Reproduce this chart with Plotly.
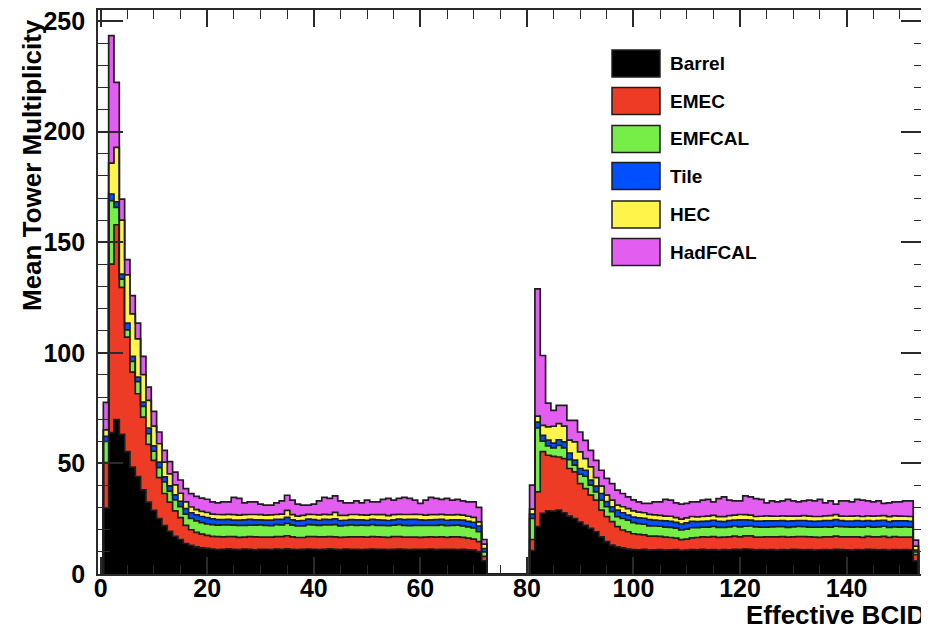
import numpy as np
import plotly.graph_objects as go

# ---------------- data ----------------
series_names = ["Barrel", "EMEC", "EMFCAL", "Tile", "HEC", "HadFCAL"]
series_colors = ["#000000", "#EE3B26", "#77EE47", "#0050FF", "#FFF54A", "#E35EF0"]

bins_left = list(range(1, 73))      # effective BCID 1..72
bins_right = list(range(81, 154))   # effective BCID 81..153

barrel_left = [29.8, 63.9, 69.8, 63.1, 55.3, 48.3, 44.0, 38.0, 32.5, 28.8,
               25.1, 21.9, 19.3, 17.0, 15.6, 13.8, 13.0, 12.3, 11.8, 11.6,
               11.3, 11.0, 11.2, 11.4, 11.1, 11.0, 11.3, 11.2, 10.9, 11.1,
               11.2, 11.0, 11.3, 11.1, 11.4, 11.2, 11.0, 11.1, 11.3, 11.2,
               11.0, 11.2, 11.4, 11.1, 11.0, 11.3, 11.2, 11.1, 11.0, 11.2,
               11.3, 11.1, 11.2, 11.0, 11.1, 11.3, 11.2, 11.0, 11.1, 11.2,
               11.1, 11.3, 11.0, 11.2, 11.1, 11.2, 11.0, 11.1, 10.9, 10.8,
               10.1, 5.9]
emec_left = [20.6, 76.2, 88.1, 66.5, 51.8, 43.0, 37.5, 32.9, 26.1, 22.6,
             18.5, 14.5, 13.2, 11.5, 9.9, 8.2, 7.0, 6.5, 6.2, 5.9,
             5.7, 5.9, 5.6, 5.5, 5.8, 5.6, 5.4, 5.7, 5.9, 5.6,
             5.5, 5.7, 5.6, 5.8, 5.9, 5.6, 5.5, 5.4, 5.6, 5.7,
             5.8, 5.6, 5.5, 5.7, 5.6, 5.4, 5.6, 5.7, 5.8, 5.5,
             5.6, 5.7, 5.5, 5.6, 5.8, 5.6, 5.5, 5.7, 5.6, 5.4,
             5.6, 5.5, 5.7, 5.6, 5.5, 5.6, 5.8, 5.5, 5.3, 5.0,
             4.5, 2.1]
emfcal_left = [9.5, 28.7, 7.9, 3.7, 3.3, 4.8, 5.5, 4.9, 4.8, 4.2,
               4.5, 5.2, 5.0, 5.0, 5.0, 5.1, 5.1, 5.2, 5.2, 5.2,
               5.3, 5.2, 5.4, 5.3, 5.2, 5.4, 5.3, 5.2, 5.3, 5.5,
               5.3, 5.2, 5.4, 5.3, 5.6, 5.3, 5.2, 5.3, 5.4, 5.3,
               5.2, 5.4, 5.3, 5.5, 5.2, 5.3, 5.4, 5.2, 5.3, 5.3,
               5.4, 5.2, 5.3, 5.3, 5.2, 5.4, 5.3, 5.2, 5.3, 5.4,
               5.3, 5.2, 5.3, 5.4, 5.3, 5.2, 5.3, 5.2, 5.1, 5.0,
               4.5, 2.0]
tile_left = [2.3, 3.0, 2.5, 2.3, 3.0, 2.3, 2.0, 1.9, 2.6, 2.3,
             2.5, 2.3, 2.3, 2.3, 2.4, 2.5, 2.6, 2.7, 2.8, 2.8,
             2.6, 2.5, 2.4, 2.5, 2.3, 2.4, 2.5, 2.6, 2.4, 2.3,
             2.4, 2.5, 2.4, 2.5, 2.7, 2.4, 2.3, 2.4, 2.5, 2.4,
             2.3, 2.5, 2.4, 2.6, 2.4, 2.3, 2.4, 2.5, 2.4, 2.3,
             2.4, 2.5, 2.4, 2.3, 2.4, 2.5, 2.6, 2.8, 2.7, 2.5,
             2.4, 2.5, 2.6, 2.5, 2.4, 2.5, 2.4, 2.6, 2.5, 2.6,
             2.6, 1.5]
hec_left = [3.0, 14.0, 24.6, 24.4, 21.8, 19.2, 17.3, 12.4, 12.5, 9.0,
            8.3, 6.7, 5.5, 4.5, 3.6, 3.0, 2.6, 2.4, 2.3, 2.3,
            2.2, 2.3, 2.2, 2.3, 2.4, 2.2, 2.3, 2.2, 2.4, 2.3,
            2.2, 2.3, 2.2, 2.4, 3.2, 2.3, 2.2, 2.3, 2.2, 2.3,
            2.4, 2.3, 2.2, 3.0, 2.3, 2.2, 2.3, 2.4, 2.2, 2.3,
            2.2, 2.3, 2.4, 2.2, 2.3, 2.2, 2.3, 2.2, 2.3, 2.4,
            2.2, 2.3, 2.2, 2.3, 2.4, 2.2, 2.3, 2.2, 2.3, 2.2,
            1.9, 2.0]
hadfcal_left = [12.4, 57.6, 29.4, 9.5, 6.9, 8.3, 7.1, 8.3, 6.0, 6.6,
                5.3, 5.3, 5.5, 5.8, 6.0, 6.0, 6.0, 6.0, 6.0, 6.0,
                5.5, 5.3, 5.8, 5.6, 7.8, 7.6, 5.4, 5.7, 5.7, 4.8,
                4.5, 4.4, 5.3, 6.0, 6.8, 6.6, 5.4, 4.6, 4.1, 4.7,
                6.4, 7.6, 7.4, 7.4, 6.6, 5.7, 5.3, 6.2, 5.5, 6.8,
                5.7, 5.8, 6.9, 7.8, 6.6, 7.2, 7.7, 7.3, 6.4, 5.0,
                6.8, 7.8, 7.4, 6.7, 7.5, 6.7, 6.9, 6.5, 6.5, 7.0,
                6.5, 2.1]

barrel_right = [10.6, 21.4, 27.4, 28.6, 28.4, 28.9, 27.7, 26.2, 25.1, 23.5,
                22.0, 20.6, 19.1, 16.8, 14.6, 13.1, 12.3, 11.8, 11.3,
                11.0, 10.9, 11.1, 10.8, 10.9, 11.0, 10.8, 10.9, 11.0, 10.7,
                10.8, 11.0, 10.9, 11.1, 10.9, 11.0, 10.8, 11.0, 10.9, 11.1,
                11.0, 11.3, 11.2, 10.9, 11.0, 10.9, 11.0, 10.8, 11.0, 10.9,
                11.1, 11.0, 10.9, 11.0, 10.8, 10.9, 11.0, 10.9, 11.1, 11.0,
                10.9, 10.8, 11.0, 10.9, 11.1, 11.0, 10.9, 11.0, 10.8, 11.0,
                10.9, 11.0, 10.9,
                5.9]
emec_right = [5.0, 15.7, 27.9, 25.1, 24.8, 24.0, 24.5, 21.5, 21.1, 17.4,
              16.6, 15.1, 14.3, 12.1, 11.3, 10.6, 9.1, 8.1, 7.8,
              7.2, 7.0, 6.6, 6.3, 6.2, 6.0, 5.9, 5.6, 5.2, 4.8,
              5.0, 5.3, 5.6, 5.7, 5.8, 5.9, 5.8, 5.7, 5.9, 6.0,
              5.8, 5.9, 6.0, 5.8, 5.7, 5.9, 5.8, 6.0, 5.9, 5.8,
              5.7, 5.9, 6.0, 5.8, 5.9, 5.7, 5.8, 5.9, 6.0, 5.8,
              5.9, 6.0, 5.8, 5.7, 5.9, 5.8, 5.9, 6.0, 5.8, 5.9,
              5.8, 5.7, 5.8,
              2.9]
emfcal_right = [9.5, 28.9, 4.8, 4.2, 3.8, 5.3, 4.8, 4.0, 3.0, 4.2,
                5.6, 4.5, 3.7, 4.5, 4.5, 4.5, 4.5, 5.2, 5.3,
                5.0, 4.9, 4.8, 4.7, 4.6, 4.6, 4.5, 4.6, 4.5, 4.4,
                4.5, 4.6, 4.5, 4.4, 4.5, 4.6, 4.5, 4.4, 4.5, 4.6,
                4.5, 4.4, 4.5, 4.6, 4.5, 4.4, 4.5, 4.6, 4.5, 4.4,
                4.5, 4.6, 4.5, 4.4, 4.5, 4.6, 4.5, 4.4, 4.5, 4.6,
                4.5, 4.4, 4.5, 4.6, 4.5, 4.4, 4.5, 4.6, 4.5, 4.4,
                4.5, 4.6, 4.5,
                1.2]
tile_right = [2.0, 2.7, 2.6, 2.6, 2.2, 2.5, 2.7, 3.0, 2.3, 2.6,
              2.7, 2.2, 2.6, 3.0, 2.3, 2.2, 3.0, 2.6, 2.2,
              2.5, 2.6, 2.7, 2.8, 2.7, 2.6, 2.8, 2.7, 2.6, 2.7,
              2.8, 2.9, 2.7, 2.6, 2.7, 2.8, 2.7, 2.6, 2.8, 2.7,
              3.2, 2.9, 2.7, 2.6, 2.7, 2.8, 2.7, 2.6, 2.7, 2.8,
              2.7, 2.6, 2.8, 2.7, 2.6, 2.7, 2.8, 2.9, 3.0, 2.7,
              2.6, 2.7, 2.8, 2.7, 2.6, 2.7, 2.8, 2.7, 2.6, 2.7,
              2.8, 2.7, 2.6,
              0.8]
hec_right = [2.2, 2.7, 4.5, 6.0, 7.6, 7.3, 7.2, 5.8, 8.2, 7.5,
             5.3, 6.0, 3.9, 3.3, 3.0, 3.0, 2.2, 2.7, 3.0,
             2.8, 2.6, 2.5, 2.4, 2.3, 2.3, 2.2, 2.3, 2.2, 2.2,
             2.3, 2.2, 2.1, 2.2, 2.3, 2.2, 2.1, 2.2, 2.3, 2.2,
             2.4, 2.3, 2.2, 2.1, 2.2, 2.3, 2.2, 2.1, 2.2, 2.3,
             2.2, 2.1, 2.2, 2.3, 2.2, 2.1, 2.2, 2.3, 2.2, 2.1,
             2.2, 2.3, 2.2, 2.1, 2.2, 2.3, 2.2, 2.1, 2.2, 2.3,
             2.2, 2.1, 2.2,
             1.8]
hadfcal_right = [10.9, 57.5, 31.6, 10.8, 7.2, 8.2, 9.3, 9.0, 9.8, 9.0,
                 8.2, 7.5, 7.8, 7.2, 7.5, 7.5, 6.8, 6.0, 5.3,
                 5.0, 4.6, 4.2, 4.9, 5.9, 6.1, 7.5, 7.3, 6.7, 6.8,
                 6.5, 6.6, 6.8, 7.4, 7.5, 6.1, 8.2, 9.0, 7.0, 6.5,
                 6.2, 8.5, 8.3, 8.1, 7.6, 5.9, 6.9, 6.5, 6.8, 7.5,
                 6.9, 6.4, 6.7, 7.2, 7.1, 7.7, 5.9, 6.7, 4.8, 6.9,
                 7.0, 6.4, 7.4, 7.4, 6.8, 6.4, 6.8, 5.5, 6.3, 6.3,
                 6.4, 7.0, 7.1,
                 2.7]

series_left = [barrel_left, emec_left, emfcal_left, tile_left, hec_left, hadfcal_left]
series_right = [barrel_right, emec_right, emfcal_right, tile_right, hec_right, hadfcal_right]
for s in series_left:
    assert len(s) == len(bins_left), len(s)
for s in series_right:
    assert len(s) == len(bins_right), len(s)


# ---------------- build step outlines of the stacked histograms ----------------
def step_path(bins, vals):
    """Histogram outline (hv steps) for one contiguous block of bins."""
    xs = [bins[0] - 0.5]
    ys = [0.0]
    for b, v in zip(bins, vals):
        xs.append(b - 0.5)
        ys.append(v)
    xs += [bins[-1] + 0.5, bins[-1] + 0.5]
    ys += [vals[-1], 0.0]
    return xs, ys


cum_left = np.cumsum(np.array(series_left, dtype=float), axis=0)
cum_right = np.cumsum(np.array(series_right, dtype=float), axis=0)

outline_color = "#1e1e1e"
fig = go.Figure()
for i, (name, color) in enumerate(zip(series_names, series_colors)):
    xl, yl = step_path(bins_left, list(cum_left[i]))
    xr, yr = step_path(bins_right, list(cum_right[i]))
    fig.add_trace(go.Scatter(
        x=xl + xr, y=yl + yr, name=name, mode="lines",
        line=dict(shape="hv", color=outline_color, width=1.7),
        fill="tozeroy" if i == 0 else "tonexty",
        fillcolor=color, hoverinfo="skip", showlegend=False,
    ))

# ---------------- layout ----------------
# The page body has an 8px default margin, so the figure is drawn 8px in
# from the window's top-left corner; size it to fill the rest of the window.
OFF = 8
W, H = 929 - OFF, 632 - OFF
PLOT_L, PLOT_R, PLOT_T, PLOT_B = 98, 926, 10, 574     # window pixels of the frame
ML, MR = PLOT_L - OFF, W - (PLOT_R - OFF)
MT, MB = PLOT_T - OFF, H - (PLOT_B - OFF)
PW, PH = W - ML - MR, H - MT - MB

font_family = "Liberation Sans, Arial, Helvetica, sans-serif"
axis_col = "#2a2a2a"

fig.update_layout(
    width=W, height=H,
    margin=dict(l=ML, r=MR, t=MT, b=MB, pad=0, autoexpand=False),
    paper_bgcolor="white", plot_bgcolor="white",
    showlegend=False,
    font=dict(family=font_family, color="black"),
)
fig.update_xaxes(
    range=[-0.5, 154.9], tick0=0, dtick=20, automargin=False,
    ticks="inside", ticklen=17, tickwidth=1.5, tickcolor=axis_col,
    minor=dict(dtick=5, ticks="inside", ticklen=9, tickwidth=1.3, tickcolor=axis_col),
    showline=True, linecolor=axis_col, linewidth=1.6, mirror="allticks",
    showgrid=False, zeroline=False,
    tickfont=dict(family=font_family, size=25, color="black", weight="bold"),
    ticklabelstandoff=-9, ticklabeloverflow="allow",
)
fig.update_yaxes(
    range=[0, 255], tick0=0, dtick=50, automargin=False,
    ticks="inside", ticklen=25, tickwidth=1.5, tickcolor=axis_col,
    minor=dict(dtick=10, ticks="inside", ticklen=12, tickwidth=1.3, tickcolor=axis_col),
    showline=True, linecolor=axis_col, linewidth=1.6, mirror="allticks",
    showgrid=False, zeroline=False,
    tickfont=dict(family=font_family, size=25, color="black", weight="bold"),
    ticklabelstandoff=6, ticklabeloverflow="allow",
)


def px_x(px):
    """window pixel x -> paper coordinate"""
    return (px - PLOT_L) / PW


def px_y(py):
    """window pixel y -> paper coordinate"""
    return (PLOT_B - py) / PH


annotations = [
    dict(text="Mean Tower Multiplicity", textangle=-90,
         xref="paper", yref="paper", x=px_x(32), y=px_y(17),
         xanchor="center", yanchor="top", showarrow=False,
         font=dict(family=font_family, size=26, color="black", weight="bold")),
    dict(text="Effective BCID",
         xref="paper", yref="paper", x=px_x(927), y=px_y(615),
         xanchor="right", yanchor="middle", showarrow=False,
         font=dict(family=font_family, size=26, color="black", weight="bold")),
]

shapes = []
row_centers = [63.5, 101, 139, 176, 214.5, 252]
for name, color, yc in zip(series_names, series_colors, row_centers):
    shapes.append(dict(type="rect", xref="paper", yref="paper",
                       x0=px_x(612), x1=px_x(660), y0=px_y(yc + 13.5), y1=px_y(yc - 13.5),
                       fillcolor=color, line=dict(color=outline_color, width=1.5)))
    annotations.append(dict(text=name, xref="paper", yref="paper",
                            x=px_x(668), y=px_y(yc), xanchor="left", yanchor="middle",
                            showarrow=False,
                            font=dict(family=font_family, size=19, color="black", weight="bold")))

fig.update_layout(annotations=annotations, shapes=shapes)
fig.write_html("out.html")
